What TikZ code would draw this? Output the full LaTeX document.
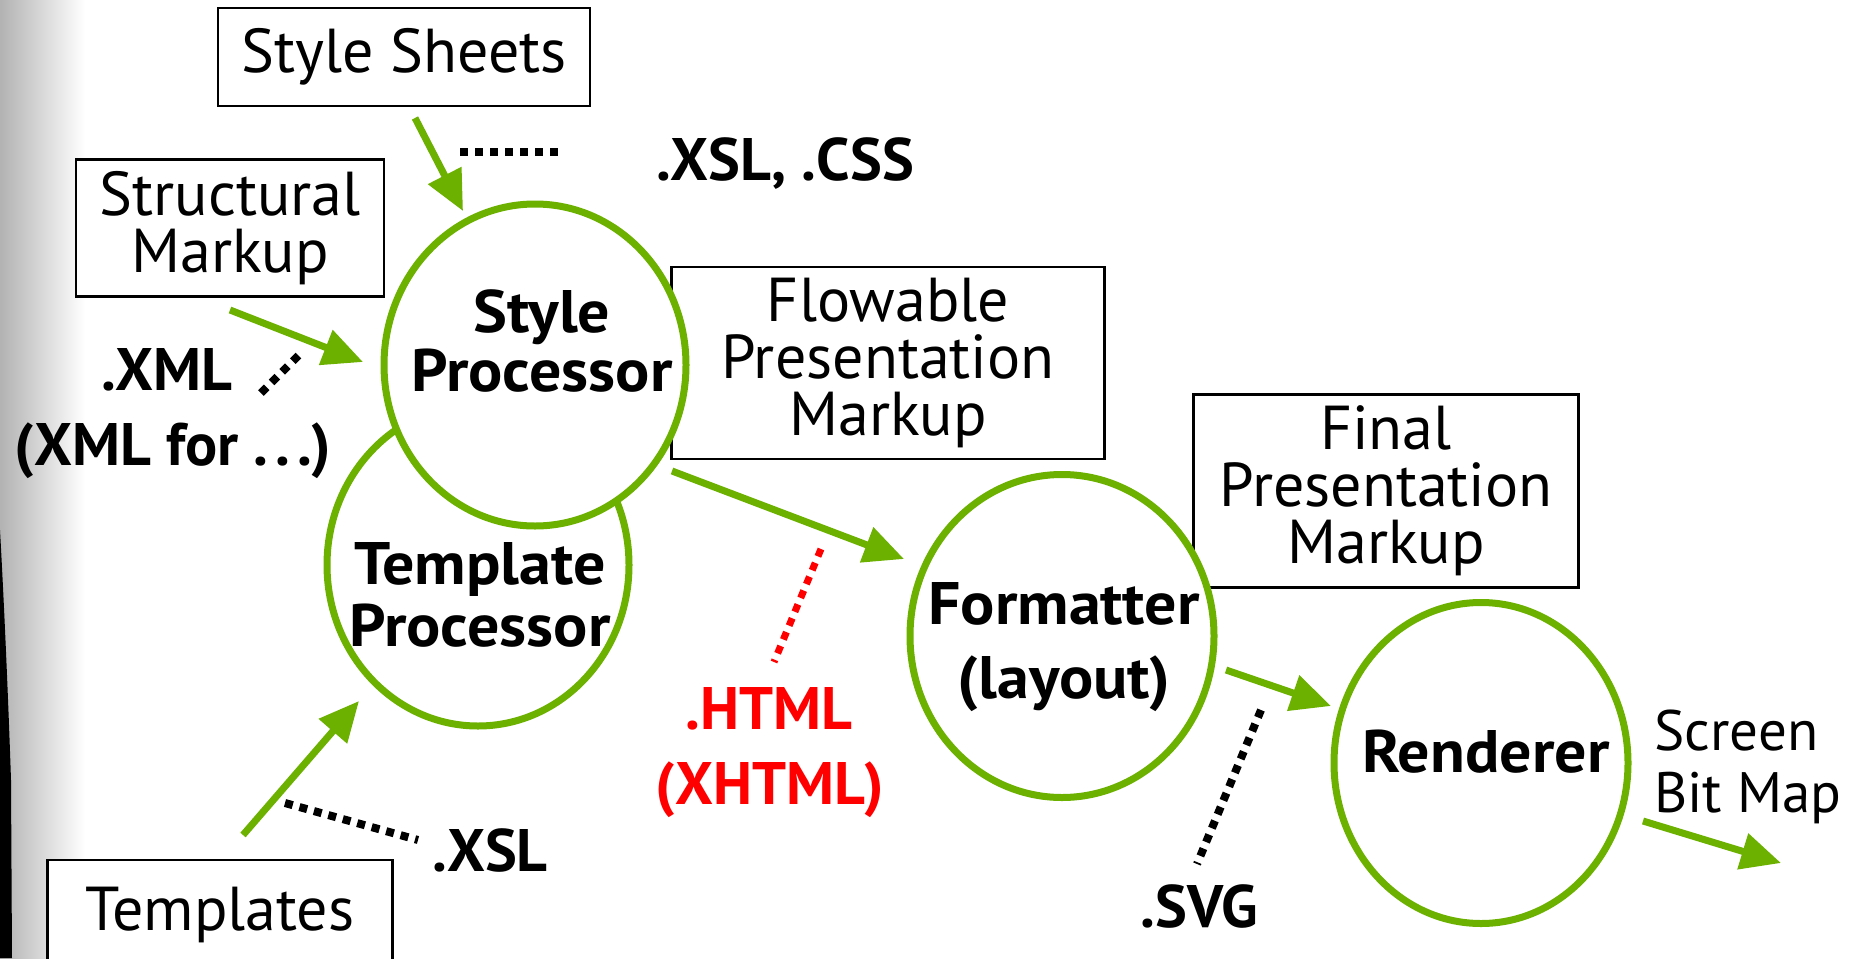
\documentclass[tikz,border=0pt]{standalone}
\usepackage{fontspec}
\setmainfont{PT Sans}
\newfontfamily\procfont[FakeStretch=1.065]{PT Sans}
\usetikzlibrary{arrows.meta,shapes.geometric}
\definecolor{grn}{RGB}{108,176,0}
\definecolor{htmlred}{RGB}{255,0,0}
\tikzset{
  box/.style={draw=black, line width=2.5pt, fill=white, inner sep=0pt, font=\fontsize{62}{57}\selectfont, align=center},
  proc/.style={draw=grn, line width=7pt, fill=white, ellipse, inner sep=0pt},
  ptext/.style={font=\procfont\bfseries\fontsize{60}{60}\selectfont, align=center, inner sep=0pt},
  blabel/.style={font=\bfseries\fontsize{60}{72}\selectfont, inner sep=0pt, anchor=base},
  rlabel/.style={font=\fontsize{57}{62}\selectfont, inner sep=0pt, align=left},
  flow/.style={draw=grn, line width=7pt, -{Triangle[length=40pt,width=36pt]}},
  dotline/.style={draw=black, line width=8pt, dash pattern=on 8pt off 7pt},
}
\begin{document}
\begin{tikzpicture}[x=1pt,y=-1pt]
\clip (0,0) rectangle (1859,958);
\fill[white] (0,0) rectangle (1859,958);
% scan shadow at the left edge
\shade[left color=black!30, right color=white] (0,0) rectangle (85,958);
\fill[black] (0,530) .. controls (5,620) and (9,720) .. (11,780) -- (12,958) -- (0,958) -- cycle;

% boxes
\node[box, minimum width=372, minimum height=98] (ss) at (404,57) {Style Sheets};
\node[box, minimum width=308, minimum height=137] (sm) at (230,228) {Structural\\Markup};
\node[box, minimum width=433, minimum height=192] (fpm) at (888,363) {Flowable\\Presentation\\Markup};
\node[box, minimum width=385, minimum height=193] (final) at (1386,491) {Final\\Presentation\\Markup};
\node[box, minimum width=345, minimum height=110] (tpl) at (220,915) {Templates};

% processors
\node[proc, minimum width=302, minimum height=322] (tp) at (478,565) {};
\node[proc, minimum width=302, minimum height=322] (sp) at (535,365) {};
\node[proc, minimum width=304, minimum height=323] (fm) at (1062,636) {};
\node[proc, minimum width=294, minimum height=321] (rd) at (1481,763) {};

\node[ptext, font=\procfont\bfseries\fontsize{60}{59}\selectfont] (sp-t) at (542,341) {Style\\Processor};
\node[ptext, font=\procfont\bfseries\fontsize{60}{62}\selectfont] (tp-t) at (480,595) {Template\\Processor};
\node[ptext, font=\procfont\bfseries\fontsize{60}{74}\selectfont] (fm-t) at (1064,647) {Formatter\\(layout)};
\node[ptext, anchor=base] (rd-t) at (1486,772) {Renderer};

% arrows
\coordinate (a1s) at (415,118); \coordinate (a1e) at (463,211);
\coordinate (a2s) at (230,310); \coordinate (a2e) at (363,362);
\coordinate (a3s) at (243,835); \coordinate (a3e) at (359,701);
\coordinate (a4s) at (672,471); \coordinate (a4e) at (904,559);
\coordinate (a5s) at (1226,670); \coordinate (a5e) at (1331,706);
\coordinate (a6s) at (1643,821); \coordinate (a6e) at (1781,863);
\draw[flow] (a1s) -- (a1e);
\draw[flow] (a2s) -- (a2e);
\draw[flow] (a3s) -- (a3e);
\draw[flow] (a4s) -- (a4e);
\draw[flow] (a5s) -- (a5e);
\draw[flow] (a6s) -- (a6e);

% dotted leaders
\coordinate (d1s) at (460,152); \coordinate (d1e) at (560,152);
\coordinate (d2s) at (261,393); \coordinate (d2e) at (302,352);
\coordinate (d3s) at (285,803); \coordinate (d3e) at (418,840);
\coordinate (d4s) at (821,549); \coordinate (d4e) at (774,662);
\coordinate (d5s) at (1261,710); \coordinate (d5e) at (1197,864);
\draw[dotline] (d1s) -- (d1e);
\draw[dotline] (d2s) -- (d2e);
\draw[dotline] (d3s) -- (d3e);
\draw[dotline, draw=htmlred, line width=7pt] (d4s) -- (d4e);
\draw[dotline] (d5s) -- (d5e);

% labels
\node[blabel] (xslcss) at (785,180) {.XSL, .CSS};
\node[blabel] (xml) at (167,390) {.XML};
\node[blabel] (xmlfor) at (173,465) {(XML for .\kern7pt.\kern7pt.)};
\node[blabel, text=htmlred] (html) at (769,729) {.HTML};
\node[blabel, text=htmlred] (xhtml) at (770,804) {(XHTML)};
\node[blabel] (xsl) at (490,871) {.XSL};
\node[blabel] (svg) at (1199,927) {.SVG};
\node[rlabel] (sbm) at (1748,767) {Screen\\Bit Map};
\end{tikzpicture}
\end{document}
